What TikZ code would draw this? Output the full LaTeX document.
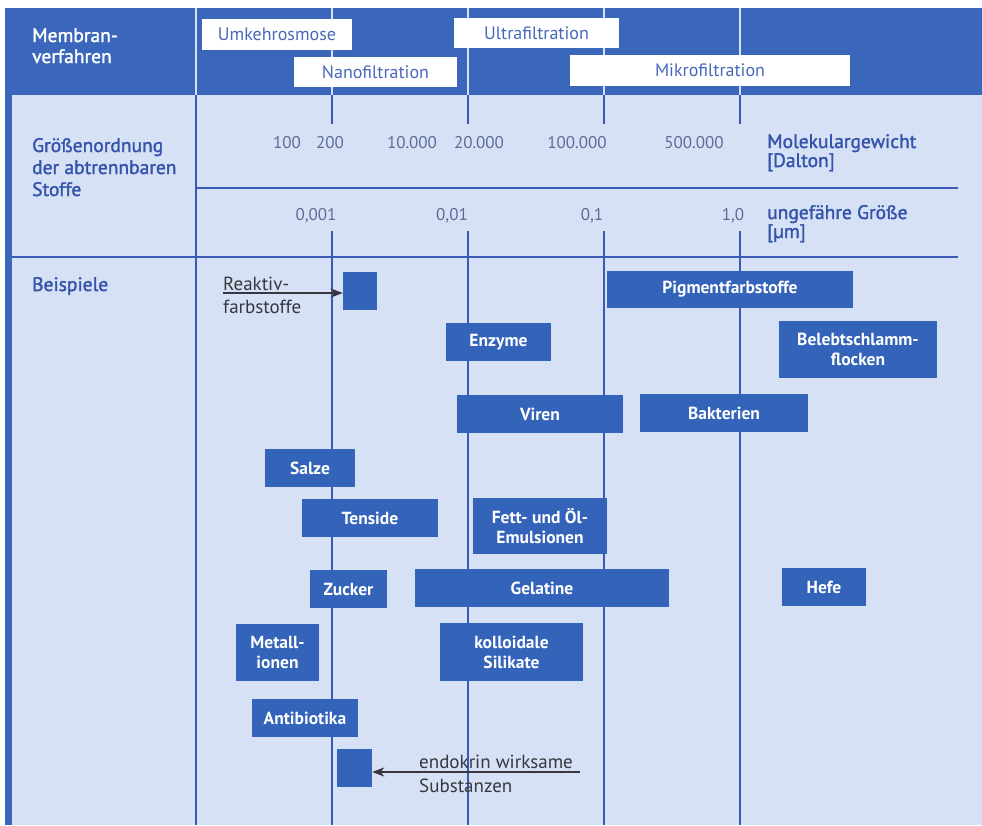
\documentclass[tikz,border=0pt]{standalone}
\usepackage{fontspec}
\setmainfont{PT Sans}
\newfontfamily\labelfont{PT Sans}[FakeBold=1.6]
\usetikzlibrary{arrows.meta}

\definecolor{hdrblue}{RGB}{58,103,188}
\definecolor{boxblue}{RGB}{52,99,186}
\definecolor{bodyblue}{RGB}{215,225,246}
\definecolor{ruleblue}{RGB}{58,90,180}
\definecolor{hdrline}{RGB}{215,225,246}
\definecolor{txtblue}{RGB}{52,84,172}
\definecolor{hdrtext}{RGB}{72,104,186}
\definecolor{numgray}{RGB}{92,108,150}
\definecolor{notegray}{RGB}{55,55,60}

\tikzset{
  hdrbox/.style={fill=white, text=hdrtext, font=\fontsize{18}{20}\selectfont,
    inner sep=0pt},
  example/.style={fill=boxblue, text=white, align=center, inner sep=0pt,
    font=\bfseries\fontsize{17.5}{20}\selectfont},
  num/.style={text=numgray, font=\fontsize{17}{18}\selectfont, anchor=base,
    inner sep=0pt},
  sidelabel/.style={text=txtblue, font=\labelfont\fontsize{19.5}{22}\selectfont,
    anchor=base west, inner sep=0pt},
  note/.style={text=notegray, font=\fontsize{19}{22}\selectfont,
    anchor=base west, inner sep=0pt},
  rule/.style={draw=ruleblue, line width=1.8pt},
  gridline/.style={draw=ruleblue, line width=1.2pt},
  hdrgrid/.style={draw=hdrline, line width=1.1pt},
  pointer/.style={draw=notegray, line width=1.6pt,
    -{Stealth[length=12pt, width=9pt, inset=3.5pt]}}
}

\begin{document}
\begin{tikzpicture}[x=1pt, y=-1pt]
\useasboundingbox (0,0) rectangle (982,825);

% page, body and header band
\fill[white] (0,0) rectangle (982,825);
\fill[bodyblue] (5,95) rectangle (982,825);
\fill[hdrblue] (5,8) rectangle (982,95);
\fill[hdrblue] (5,95) rectangle (12,825);

% header grid lines
\foreach \x in {196,332,468,604,740}
  \draw[hdrgrid] (\x,8) -- (\x,95);

% table rules
\draw[rule] (196,95) -- (196,825);
\draw[rule] (196,188) -- (958,188);
\draw[rule] (12,257) -- (958,257);

% scale lines (decades of particle size)
\foreach \x in {332,468,604,740} {
  \draw[gridline] (\x,95) -- (\x,124);
  \draw[gridline] (\x,231) -- (\x,257);
  \draw[gridline] (\x,257) -- (\x,825);
}

% membrane processes
\node[hdrbox, minimum width=150pt, minimum height=31pt] (ro) at (277,34.5) {Umkehrosmose};
\node[hdrbox, minimum width=165pt, minimum height=30pt] (uf) at (536.5,33) {Ultrafiltration};
\node[hdrbox, minimum width=163pt, minimum height=30pt] (nf) at (375.5,72) {Nanofiltration};
\node[hdrbox, minimum width=280pt, minimum height=31pt] (mf) at (710,70.5) {Mikrofiltration};

% row titles
\node[sidelabel, text=white] (t1a) at (32,42) {Membran-};
\node[sidelabel, text=white] (t1b) at (32,63) {verfahren};
\node[sidelabel] (t2a) at (32,152) {Größenordnung};
\node[sidelabel] (t2b) at (32,174) {der abtrennbaren};
\node[sidelabel] (t2c) at (32,196) {Stoffe};
\node[sidelabel] (t3) at (32,291) {Beispiele};

% molecular weight scale
\node[num] (m100) at (287,148) {100};
\node[num] (m200) at (330,148) {200};
\node[num] (m10k) at (412,148) {10.000};
\node[num] (m20k) at (479,148) {20.000};
\node[num] (m100k) at (577,148) {100.000};
\node[num] (m500k) at (694,148) {500.000};
\node[sidelabel] (mw) at (767,148) {Molekulargewicht};
\node[sidelabel] (dalton) at (767,167) {[Dalton]};

% size scale
\node[num] (s0001) at (316,220) {0,001};
\node[num] (s001) at (452,220) {0,01};
\node[num] (s01) at (592,220) {0,1};
\node[num] (s1) at (733,220) {1,0};
\node[sidelabel] (size) at (767,219) {ungefähre Größe};
\node[sidelabel] (micron) at (767,238) {[µm]};

% examples
\node[example, minimum width=34pt, minimum height=38pt] (reaktiv) at (360,291) {};
\node[example, minimum width=246pt, minimum height=37pt] (pigment) at (730,289.5) {Pigmentfarbstoffe};
\node[example, minimum width=105pt, minimum height=38pt] (enzyme) at (498.5,342) {Enzyme};
\node[example, minimum width=158pt, minimum height=57pt] (schlamm) at (858,349.5) {Belebtschlamm-\\flocken};
\node[example, minimum width=166pt, minimum height=38pt] (viren) at (540,414) {Viren};
\node[example, minimum width=168pt, minimum height=38pt] (bakterien) at (724,413) {Bakterien};
\node[example, minimum width=90pt, minimum height=38pt] (salze) at (310,468) {Salze};
\node[example, minimum width=136pt, minimum height=38pt] (tenside) at (370,518) {Tenside};
\node[example, minimum width=134pt, minimum height=56pt] (fett) at (540,526) {Fett- und Öl-\\Emulsionen};
\node[example, minimum width=77pt, minimum height=38pt] (zucker) at (348.5,589) {Zucker};
\node[example, minimum width=254pt, minimum height=38pt] (gelatine) at (542,588) {Gelatine};
\node[example, minimum width=84pt, minimum height=38pt] (hefe) at (824,587) {Hefe};
\node[example, minimum width=83pt, minimum height=57pt] (metall) at (277.5,652.5) {Metall-\\ionen};
\node[example, minimum width=143pt, minimum height=58pt] (silikate) at (511.5,652) {kolloidale\\Silikate};
\node[example, minimum width=106pt, minimum height=38pt] (antibiotika) at (305,718) {Antibiotika};
\node[example, minimum width=35pt, minimum height=38pt] (endokrin) at (354.5,768) {};

% annotations with pointers
\node[note] (reaktivA) at (223,290) {Reaktiv-};
\node[note] (reaktivB) at (223,313) {farbstoffe};
\coordinate (reaktivtail) at (223,293);
\draw[pointer] (reaktivtail) -- (reaktivtail -| reaktiv.west);

\node[note] (endoA) at (419,768) {endokrin wirksame};
\node[note] (endoB) at (419,792) {Substanzen};
\coordinate (endotail) at (580,772);
\draw[pointer] (endotail) -- (endotail -| endokrin.east);
\end{tikzpicture}
\end{document}
